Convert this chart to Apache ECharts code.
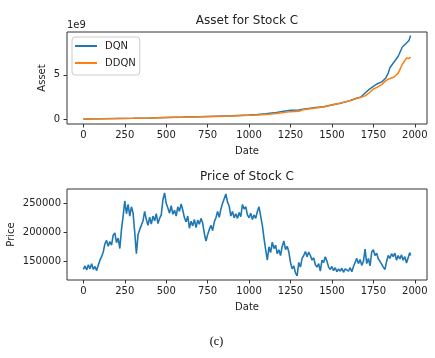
<!DOCTYPE html>
<html>
<head>
<meta charset="utf-8">
<script src="https://cdn.jsdelivr.net/npm/echarts@6/dist/echarts.min.js"></script>
<style>
html,body{margin:0;padding:0;background:#fff;}
#c{width:435px;height:358px;}
</style>
</head>
<body>
<div id="c"></div>
<script>
// ---------- data ----------
var xTicks = [0, 250, 500, 750, 1000, 1250, 1500, 1750, 2000];
var assetTicks = [0, 5];           // in units of 1e9
var priceTicks = [150000, 200000, 250000];
var seriesNames = ['DQN', 'DDQN'];

var assetDays = [0, 100, 200, 300, 400, 500, 600, 700, 800, 900, 1000, 1050, 1100, 1150, 1200, 1250, 1300, 1325, 1350, 1400, 1450, 1500, 1550, 1600, 1625, 1650, 1675, 1700, 1725, 1750, 1775, 1800, 1825, 1840, 1850, 1875, 1900, 1925, 1950, 1965, 1975];
var dqnAsset = [0.01, 0.03, 0.06, 0.09, 0.13, 0.18, 0.22, 0.27, 0.32, 0.37, 0.46, 0.52, 0.60, 0.70, 0.86, 1.00, 1.02, 1.12, 1.18, 1.30, 1.38, 1.60, 1.78, 2.03, 2.18, 2.35, 2.50, 2.95, 3.35, 3.70, 4.00, 4.20, 4.65, 5.20, 5.80, 6.45, 7.10, 8.15, 8.60, 8.90, 9.45];
var ddqnAsset = [0.01, 0.03, 0.05, 0.08, 0.12, 0.17, 0.21, 0.25, 0.30, 0.35, 0.42, 0.47, 0.52, 0.60, 0.70, 0.84, 0.88, 1.05, 1.12, 1.25, 1.36, 1.62, 1.80, 2.05, 2.20, 2.38, 2.45, 2.62, 2.95, 3.40, 3.62, 3.90, 4.35, 4.50, 4.55, 4.75, 5.20, 6.20, 6.90, 6.85, 7.00];

// price sampled every 10 days (thousands), last point is day 1975
var priceK = [
136,142,135,144,137,146,136,141,134,143,
152,158,166,180,186,176,184,178,195,199,
182,190,172,205,228,254,232,248,228,244,
233,200,163,196,205,212,220,236,222,212,
226,214,228,220,232,215,224,230,256,268,
250,242,233,246,231,238,228,244,236,249,
238,225,218,228,207,219,211,222,208,221,
214,224,216,198,185,196,205,212,203,218,
225,236,226,240,250,258,266,252,245,228,
236,225,232,224,234,227,248,240,244,230,
225,233,222,230,224,236,244,228,212,190,
170,152,175,165,183,172,178,163,170,160,
176,185,170,176,166,148,137,142,130,125,
148,140,155,160,167,158,166,160,152,156,
144,140,146,133,152,148,158,150,140,136,
141,134,139,132,137,133,138,131,137,140,
133,139,132,141,148,155,146,153,143,150,
171,146,155,142,166,170,160,164,154,150,
145,140,136,150,160,155,163,158,164,152,
160,154,161,152,158,147,156,165,160
];

// ---------- build ----------
function pairs(xs, ys, scale) {
  var out = [];
  for (var i = 0; i < ys.length; i++) out.push([xs[i], ys[i] * (scale || 1)]);
  return out;
}
var priceDays = [];
for (var i = 0; i < priceK.length - 1; i++) priceDays.push(i * 10);
priceDays.push(1975);

var TXT = '#222';
var FONT = 'DejaVu Sans';
var X_MIN = -98.75, X_MAX = 2073.75;
function plain(v) { return String(v); }

function xAxisCfg(gi) {
  return {
    type: 'value', gridIndex: gi, min: X_MIN, max: X_MAX,
    name: 'Date', nameLocation: 'middle', nameGap: 22, nameMoveOverlap: false,
    nameTextStyle: {color: TXT, fontSize: 10, fontFamily: FONT},
    axisLine: {show: false, onZero: false},
    splitLine: {show: false},
    axisTick: {show: true, customValues: xTicks, length: 3.5, inside: false, lineStyle: {color: '#333'}},
    axisLabel: {customValues: xTicks, margin: 6, color: TXT, fontSize: 10, fontFamily: FONT, formatter: plain}
  };
}

var chart = echarts.init(document.getElementById('c'), null, {renderer: 'canvas'});
chart.setOption({
  animation: false,
  backgroundColor: '#fff',
  grid: [
    {left: 67, top: 32, width: 360, height: 92, show: true, borderColor: '#333', borderWidth: 1, backgroundColor: 'transparent', containLabel: false, outerBoundsMode: 'none'},
    {left: 67, top: 189, width: 360, height: 91, show: true, borderColor: '#333', borderWidth: 1, backgroundColor: 'transparent', containLabel: false, outerBoundsMode: 'none'}
  ],
  xAxis: [xAxisCfg(0), xAxisCfg(1)],
  yAxis: [
    {
      type: 'value', gridIndex: 0, min: -0.56, max: 9.85,
      name: 'Asset', nameLocation: 'middle', nameGap: 20, nameMoveOverlap: false,
      nameTextStyle: {color: TXT, fontSize: 10, fontFamily: FONT},
      axisLine: {show: false, onZero: false}, splitLine: {show: false},
      axisTick: {show: true, customValues: assetTicks, length: 3.5, lineStyle: {color: '#333'}},
      axisLabel: {customValues: assetTicks, margin: 7, color: TXT, fontSize: 10, fontFamily: FONT, formatter: plain}
    },
    {
      type: 'value', gridIndex: 1, min: 117760, max: 274650,
      name: 'Price', nameLocation: 'middle', nameGap: 51, nameMoveOverlap: false,
      nameTextStyle: {color: TXT, fontSize: 10, fontFamily: FONT},
      axisLine: {show: false, onZero: false}, splitLine: {show: false},
      axisTick: {show: true, customValues: priceTicks, length: 3.5, lineStyle: {color: '#333'}},
      axisLabel: {customValues: priceTicks, margin: 6, color: TXT, fontSize: 10, fontFamily: FONT, formatter: plain}
    }
  ],
  legend: {
    data: seriesNames,
    left: 72, top: 37,
    orient: 'vertical',
    icon: 'rect', itemWidth: 22, itemHeight: 2, itemGap: 5,
    padding: [3, 4, 6, 3],
    backgroundColor: '#fff', borderColor: '#ccc', borderWidth: 1, borderRadius: 3,
    textStyle: {color: TXT, fontSize: 10, fontFamily: FONT, lineHeight: 12, padding: [0, 0, 0, 3]}
  },
  graphic: [
    {type: 'text', x: 247, y: 20.5, style: {text: 'Asset for Stock C', fill: TXT, font: '12px "DejaVu Sans"', textAlign: 'center', textVerticalAlign: 'middle'}},
    {type: 'text', x: 247, y: 177, style: {text: 'Price of Stock C', fill: TXT, font: '12px "DejaVu Sans"', textAlign: 'center', textVerticalAlign: 'middle'}},
    {type: 'text', x: 67, y: 25, style: {text: '1e9', fill: TXT, font: '10px "DejaVu Sans"', textAlign: 'left', textVerticalAlign: 'middle'}},
    {type: 'text', x: 216.5, y: 342, style: {text: '(c)', fill: '#000', font: '12px "Liberation Serif"', textAlign: 'center', textVerticalAlign: 'middle'}}
  ],
  series: [
    {name: 'DQN', type: 'line', xAxisIndex: 0, yAxisIndex: 0, showSymbol: false, symbol: 'none',
      data: pairs(assetDays, dqnAsset), lineStyle: {color: '#1f77b4', width: 1.5}, itemStyle: {color: '#1f77b4'}, z: 3},
    {name: 'DDQN', type: 'line', xAxisIndex: 0, yAxisIndex: 0, showSymbol: false, symbol: 'none',
      data: pairs(assetDays, ddqnAsset), lineStyle: {color: '#ff7f0e', width: 1.5}, itemStyle: {color: '#ff7f0e'}, z: 4},
    {name: 'Price', type: 'line', xAxisIndex: 1, yAxisIndex: 1, showSymbol: false, symbol: 'none',
      data: pairs(priceDays, priceK, 1000), lineStyle: {color: '#1f77b4', width: 1.6}, itemStyle: {color: '#1f77b4'}}
  ]
});
</script>
</body>
</html>
